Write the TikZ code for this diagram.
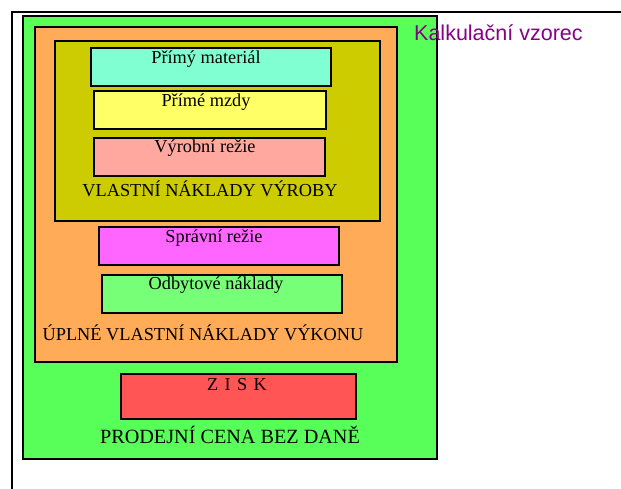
\documentclass[tikz,border=0pt]{standalone}
\usepackage{fontspec}
\setmainfont{Liberation Serif}
\newfontfamily\arialfont{Liberation Sans}
\definecolor{cgreen}{HTML}{58FF58}
\definecolor{corange}{HTML}{FFAB58}
\definecolor{colive}{HTML}{CCCC00}
\definecolor{caqua}{HTML}{7FFFD2}
\definecolor{cyellow}{HTML}{FFFF66}
\definecolor{cpink}{HTML}{FFA8A0}
\definecolor{cmagenta}{HTML}{FF66FF}
\definecolor{clgreen}{HTML}{77FF77}
\definecolor{cred}{HTML}{FF5555}
\definecolor{cpurple}{HTML}{880088}
\tikzset{
  box/.style={draw=black, line width=1.6pt},
  lbl/.style={anchor=base, inner sep=0pt, font=\fontsize{18.3}{20}\selectfont},
}
\begin{document}
\begin{tikzpicture}[x=1pt,y=-1pt]
\useasboundingbox (0,0) rectangle (621,488);
\fill[white] (0,0) rectangle (621,488);
\coordinate (fa) at (12,490);
\coordinate (fb) at (12,12);
\coordinate (fc) at (623,12);
\draw[line width=2pt] (fa) -- (fb) -- (fc);
\draw[box, fill=cgreen] (23,16) rectangle (437,459);
\draw[box, fill=corange] (35,27) rectangle (397,362);
\draw[box, fill=colive] (55,41) rectangle (380,221);
\draw[box, fill=caqua] (91,48) rectangle (331,86);
\draw[box, fill=cyellow] (94,91) rectangle (326,129);
\draw[box, fill=cpink] (94,138) rectangle (325,176);
\draw[box, fill=cmagenta] (99,227) rectangle (339,265);
\draw[box, fill=clgreen] (102,275) rectangle (342,313);
\draw[box, fill=cred] (121,374) rectangle (356,419);
\node[lbl] (t1) at (206,63) {Přímý materiál};
\node[lbl] (t2) at (206,106) {Přímé mzdy};
\node[lbl] (t3) at (205,152) {Výrobní režie};
\node[lbl] (t4) at (210,196) {VLASTNÍ NÁKLADY VÝROBY};
\node[lbl] (t5) at (214,242) {Správní režie};
\node[lbl] (t6) at (216,289) {Odbytové náklady};
\node[lbl] (t7) at (203,340) {ÚPLNÉ VLASTNÍ NÁKLADY VÝKONU};
\node[lbl] (t8) at (237,390) {Z\hspace{6.4pt}I\hspace{6.4pt}S\hspace{6.4pt}K};
\node[lbl, font=\fontsize{20.2}{22}\selectfont] (t9) at (230,443) {PRODEJNÍ CENA BEZ DANĚ};
\node[anchor=base west, inner sep=0pt, text=cpurple, font=\arialfont\fontsize{21.5}{24}\selectfont] (title) at (414,40) {Kalkulační vzorec};
\end{tikzpicture}
\end{document}
